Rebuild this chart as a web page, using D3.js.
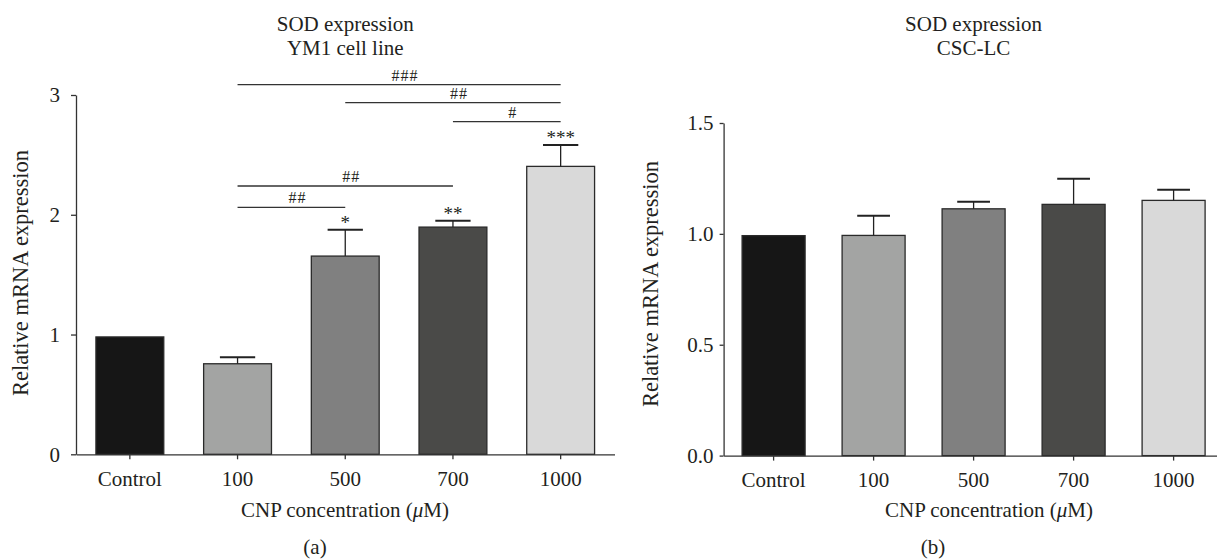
<!DOCTYPE html>
<html>
<head>
<meta charset="utf-8">
<script src="https://cdn.jsdelivr.net/npm/d3@7"></script>
<style>
  body { margin: 0; background: #fff; }
  svg text { font-family: "Liberation Serif", "Times New Roman", serif; fill: #231f20; }
  .axis path, .axis line { stroke: #333; stroke-width: 1.3; }
</style>
</head>
<body>
<div id="chart"></div>
<script>
// values
var groups = ["Control", "100", "500", "700", "1000"];
var barColors = ["#161616", "#a3a4a3", "#808080", "#4a4a48", "#d9d9d9"];

var ym1Mean = [0.98, 0.756, 1.655, 1.897, 2.404];
var ym1Err = [0, 0.055, 0.22, 0.053, 0.178];
var ym1Stars = ["", "", "*", "**", "***"];
var ym1Ticks = [0, 1, 2, 3];
// comparison brackets: from group, to group, label, height in y units
var ym1Brackets = [
  ["100", "1000", "###", 3.087],
  ["500", "1000", "##", 2.937],
  ["700", "1000", "#", 2.778],
  ["100", "700", "##", 2.24],
  ["100", "500", "##", 2.062]
];

var cscMean = [0.992, 0.993, 1.113, 1.133, 1.151];
var cscErr = [0, 0.089, 0.032, 0.116, 0.048];
var cscTicks = [0, 0.5, 1.0, 1.5];

var W = 1217, H = 560;
var fs = 21;

var svg = d3.select("#chart")
  .append("svg")
  .attr("width", W)
  .attr("height", H);

function drawPanel(opt) {
  var x = d3.scaleBand()
    .domain(groups)
    .range(opt.xr)
    .paddingInner(0.37)
    .paddingOuter(0.185);
  var y = d3.scaleLinear()
    .domain(opt.yd)
    .range(opt.yr);

  var g = svg.append("g");

  // bars
  g.selectAll("rect.bar")
    .data(groups)
    .enter().append("rect")
    .attr("class", "bar")
    .attr("x", function(d) { return x(d); })
    .attr("width", x.bandwidth())
    .attr("y", function(d, i) { return y(opt.mean[i]); })
    .attr("height", function(d, i) { return y(0) - y(opt.mean[i]); })
    .style("fill", function(d, i) { return barColors[i]; })
    .style("stroke", "#2a2a2a")
    .style("stroke-width", 1.3);

  // error bars (upper only)
  var capW = x.bandwidth() * 0.52;
  var eb = g.selectAll("g.err")
    .data(groups.filter(function(d, i) { return opt.err[i] > 0; }))
    .enter().append("g")
    .attr("class", "err");
  eb.append("line")
    .attr("x1", function(d) { return x(d) + x.bandwidth() / 2; })
    .attr("x2", function(d) { return x(d) + x.bandwidth() / 2; })
    .attr("y1", function(d) { var i = groups.indexOf(d); return y(opt.mean[i]); })
    .attr("y2", function(d) { var i = groups.indexOf(d); return y(opt.mean[i] + opt.err[i]); })
    .style("stroke", "#222").style("stroke-width", 1.3);
  eb.append("line")
    .attr("x1", function(d) { return x(d) + x.bandwidth() / 2 - capW / 2; })
    .attr("x2", function(d) { return x(d) + x.bandwidth() / 2 + capW / 2; })
    .attr("y1", function(d) { var i = groups.indexOf(d); return y(opt.mean[i] + opt.err[i]); })
    .attr("y2", function(d) { var i = groups.indexOf(d); return y(opt.mean[i] + opt.err[i]); })
    .style("stroke", "#222").style("stroke-width", 2);

  // axes
  g.append("g")
    .attr("class", "axis")
    .attr("transform", "translate(0," + y(0) + ")")
    .call(d3.axisBottom(x).tickSize(5).tickSizeOuter(0).tickPadding(opt.xPad))
    .call(function(a) { a.selectAll("text").style("font-size", fs + "px"); });

  g.append("g")
    .attr("class", "axis")
    .attr("transform", "translate(" + opt.xr[0] + ",0)")
    .call(d3.axisLeft(y).tickValues(opt.ticks).tickFormat(opt.fmt)
      .tickSize(opt.yTick).tickSizeOuter(0).tickPadding(opt.yPad))
    .call(function(a) { a.selectAll("text").style("font-size", fs + "px"); });

  var cx = (opt.xr[0] + opt.xr[1]) / 2;

  // titles
  g.append("text")
    .attr("x", cx).attr("y", 30.5)
    .attr("text-anchor", "middle")
    .style("font-size", fs + "px")
    .text("SOD expression");
  g.append("text")
    .attr("x", cx).attr("y", 54.5)
    .attr("text-anchor", "middle")
    .style("font-size", fs + "px")
    .text(opt.sub);

  // axis labels
  var xl = g.append("text")
    .attr("x", opt.xLabelX).attr("y", 517)
    .attr("text-anchor", "middle")
    .style("font-size", fs + "px")
    .text("CNP concentration (");
  xl.append("tspan").style("font-style", "italic").text("\u03bc");
  xl.append("tspan").text("M)");

  g.append("text")
    .attr("transform", "translate(" + opt.yLabelX + "," + opt.yLabelY + ") rotate(-90)")
    .attr("text-anchor", "middle")
    .style("font-size", "22.5px")
    .text("Relative mRNA expression");

  g.append("text")
    .attr("x", opt.tagX).attr("y", 554)
    .attr("text-anchor", "middle")
    .style("font-size", fs + "px")
    .text(opt.tag);

  return { g: g, x: x, y: y };
}

var pa = drawPanel({
  xr: [76, 614.5], yd: [0, 3], yr: [454.3, 95],
  mean: ym1Mean, err: ym1Err, ticks: ym1Ticks, fmt: d3.format("d"),
  xPad: 12, yTick: 5, yPad: 11,
  sub: "YM1 cell line", xLabelX: 345, yLabelX: 28, yLabelY: 273,
  tagX: 315, tag: "(a)"
});

var pb = drawPanel({
  xr: [723.6, 1223.6], yd: [0, 1.5], yr: [455.6, 123],
  mean: cscMean, err: cscErr, ticks: cscTicks, fmt: d3.format(".1f"),
  xPad: 11, yTick: 4, yPad: 6,
  sub: "CSC-LC", xLabelX: 989, yLabelX: 658, yLabelY: 284,
  tagX: 933, tag: "(b)"
});

// significance stars over YM1 bars
pa.g.selectAll("text.star")
  .data(groups)
  .enter().append("text")
  .attr("class", "star")
  .attr("x", function(d) { return pa.x(d) + pa.x.bandwidth() / 2; })
  .attr("y", function(d, i) { return pa.y(ym1Mean[i] + ym1Err[i]) - 1; })
  .attr("text-anchor", "middle")
  .style("font-size", "19px")
  .text(function(d, i) { return ym1Stars[i]; });

// comparison brackets
var half = pa.x.bandwidth() / 2;
var br = pa.g.selectAll("g.bracket")
  .data(ym1Brackets)
  .enter().append("g")
  .attr("class", "bracket");
br.append("line")
  .attr("x1", function(d) { return pa.x(d[0]) + half; })
  .attr("x2", function(d) { return pa.x(d[1]) + half; })
  .attr("y1", function(d) { return pa.y(d[3]); })
  .attr("y2", function(d) { return pa.y(d[3]); })
  .style("stroke", "#333")
  .style("stroke-width", 1.3);
br.append("text")
  .attr("x", function(d) { return (pa.x(d[0]) + pa.x(d[1])) / 2 + half + 6; })
  .attr("y", function(d) { return pa.y(d[3]) - 4; })
  .attr("text-anchor", "middle")
  .style("font-size", "16px")
  .style("letter-spacing", "1px")
  .text(function(d) { return d[2]; });
</script>
</body>
</html>
